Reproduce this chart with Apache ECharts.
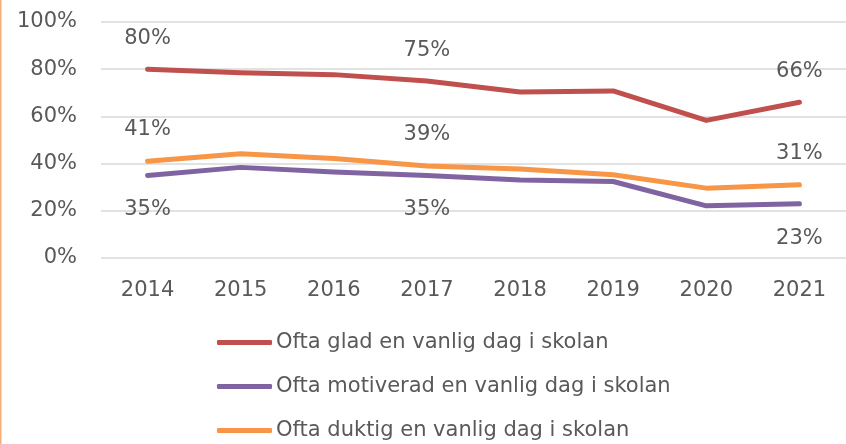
<!DOCTYPE html>
<html>
<head>
<meta charset="utf-8">
<style>
  html, body { margin: 0; padding: 0; background: #fff; }
  #chart { width: 846px; height: 444px; }
</style>
<script src="https://cdn.jsdelivr.net/npm/echarts@6/dist/echarts.min.js"></script>
</head>
<body>
<div id="chart"></div>
<script>
var years = ['2014', '2015', '2016', '2017', '2018', '2019', '2020', '2021'];
var glad = [80, 78.5, 77.7, 75, 70.3, 70.8, 58.3, 66];
var motiverad = [35, 38.4, 36.4, 35, 33.1, 32.4, 22.1, 23];
var duktig = [41, 44.2, 42.2, 39, 37.7, 35.3, 29.6, 31];
var names = [
    'Ofta glad en vanlig dag i skolan',
    'Ofta motiverad en vanlig dag i skolan',
    'Ofta duktig en vanlig dag i skolan'
];
var labelled = [0, 3, 7];

var font = 'DejaVu Sans';
var textColor = '#595959';

function lbl(position, distance) {
    return {
        show: true,
        position: position,
        distance: distance,
        color: textColor,
        fontFamily: font,
        fontSize: 21,
        formatter: function (p) {
            return labelled.indexOf(p.dataIndex) >= 0 ? Math.round(p.value) + '%' : '';
        }
    };
}

function line(name, data, color, position, distance) {
    return {
        name: name,
        type: 'line',
        data: data,
        symbol: 'circle',
        symbolSize: 0,
        showSymbol: true,
        smooth: false,
        lineStyle: { color: color, width: 5, cap: 'round', join: 'round' },
        itemStyle: { color: color },
        label: lbl(position, distance),
        z: 3
    };
}

var chart = echarts.init(document.getElementById('chart'), null, { renderer: 'canvas' });
chart.setOption({
    animation: false,
    backgroundColor: '#fff',
    graphic: [
        {
            type: 'rect',
            left: 0,
            top: 0,
            shape: { width: 1.5, height: 444 },
            style: { fill: '#F4AE7A' }
        }
    ],
    grid: { left: 101, top: 22, width: 753, height: 236 },
    xAxis: {
        type: 'category',
        data: years,
        boundaryGap: true,
        axisLine: { show: false },
        axisTick: { show: false },
        axisLabel: { color: textColor, fontFamily: font, fontSize: 21, margin: 22 }
    },
    yAxis: {
        type: 'value',
        min: 0,
        max: 100,
        interval: 20,
        axisLine: { show: false },
        axisTick: { show: false },
        axisLabel: { color: textColor, fontFamily: font, fontSize: 21, margin: 24, formatter: '{value}%' },
        splitLine: { lineStyle: { color: '#d9d9d9', width: 1.5 } }
    },
    legend: {
        orient: 'vertical',
        left: 217,
        top: 332,
        height: 140,
        padding: 0,
        itemWidth: 55,
        itemHeight: 5,
        itemGap: 23,
        icon: 'roundRect',
        textStyle: { color: textColor, fontFamily: font, fontSize: 21, padding: [0, 0, 0, -1] },
        data: names
    },
    series: [
        line(names[0], glad, '#C0504D', 'top', 20),
        line(names[1], motiverad, '#8064A2', 'bottom', 24),
        line(names[2], duktig, '#F79646', 'top', 21)
    ]
});
</script>
</body>
</html>
